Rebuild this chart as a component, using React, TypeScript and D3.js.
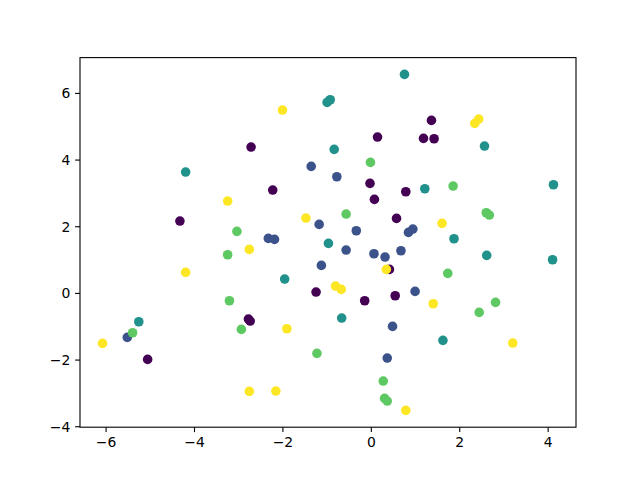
import React from "react";
import * as d3 from "d3";

const class0X = [-2.72, -4.33, 0.14, -0.03, -2.23, 0.78, 0.07, 0.57, 1.36, 1.18, 1.42, -2.78, -2.74, -5.06, 0.41, -1.25, 0.54, -0.15];
const class0Y = [4.39, 2.17, 4.69, 3.30, 3.10, 3.05, 2.82, 2.25, 5.19, 4.65, 4.64, -0.77, -0.83, -1.98, 0.72, 0.04, -0.07, -0.22];

const class1X = [-1.36, -0.78, -1.18, -0.34, 0.84, 0.94, -2.33, -2.19, -0.57, 0.06, 0.31, 0.67, -1.13, 0.99, 0.48, 0.36, -5.52];
const class1Y = [3.81, 3.50, 2.07, 1.88, 1.83, 1.93, 1.65, 1.62, 1.30, 1.19, 1.09, 1.28, 0.84, 0.06, -0.99, -1.94, -1.32];

const class2X = [0.75, -1.00, -0.93, -4.20, -0.84, 2.56, 1.21, 4.12, 1.87, -0.97, -5.26, -1.96, -0.67, 2.61, 4.10, 1.62];
const class2Y = [6.57, 5.73, 5.81, 3.64, 4.32, 4.42, 3.14, 3.26, 1.64, 1.50, -0.85, 0.43, -0.74, 1.14, 1.01, -1.41];

const class3X = [-3.04, -0.02, -0.57, 1.85, 2.60, 2.67, -3.25, -3.21, -2.94, -5.40, -1.23, 0.27, 0.30, 0.36, 1.73, 2.81, 2.44];
const class3Y = [1.86, 3.93, 2.38, 3.22, 2.42, 2.35, 1.16, -0.22, -1.08, -1.18, -1.80, -2.63, -3.15, -3.23, 0.60, -0.27, -0.57];

const class4X = [-3.25, -2.01, -1.48, 2.34, 2.43, 1.60, -2.76, -4.20, -6.08, -2.76, 0.34, -0.81, -0.68, -1.91, 0.78, -2.16, 1.40, 3.20];
const class4Y = [2.77, 5.50, 2.26, 5.10, 5.23, 2.10, 1.32, 0.63, -1.50, -2.94, 0.72, 0.22, 0.12, -1.06, -3.51, -2.93, -0.31, -1.49];

const classX = [class0X, class1X, class2X, class3X, class4X];
const classY = [class0Y, class1Y, class2Y, class3Y, class4Y];
const classColors = ["#440154", "#3b528b", "#21918c", "#5ec962", "#fde725"];

const xTicks = [-6, -4, -2, 0, 2, 4];
const yTicks = [-4, -2, 0, 2, 4, 6];

const W = 640;
const H = 480;
const L = 80;
const R = 576;
const T = 57.6;
const B = 427.2;

function padExtent(vals: number[]): [number, number] {
  const [mn, mx] = d3.extent(vals) as [number, number];
  const m = (mx - mn) * 0.05;
  return [mn - m, mx + m];
}

const fmt = (v: number) => (v < 0 ? "\u2212" + Math.abs(v) : String(v));

export default function App() {
  const allX = classX.flat();
  const allY = classY.flat();
  const x = d3.scaleLinear().domain(padExtent(allX)).range([L, R]);
  const y = d3.scaleLinear().domain(padExtent(allY)).range([B, T]);
  const pts: { cx: number; cy: number; c: string }[] = [];
  classX.forEach((xs, k) => {
    xs.forEach((xv, i) => {
      pts.push({ cx: x(xv), cy: y(classY[k][i]), c: classColors[k] });
    });
  });
  const font = "'DejaVu Sans', sans-serif";
  return (
    <svg width={W} height={H} style={{ position: "absolute", left: 0, top: 0, background: "#fff" }}>
      <rect x={0} y={0} width={W} height={H} fill="#fff" />
      {pts.map((p, i) => (
        <circle key={i} cx={p.cx} cy={p.cy} r={4.8} fill={p.c} />
      ))}
      <rect x={L} y={T} width={R - L} height={B - T} fill="none" stroke="#000" strokeWidth={1.1} />
      {xTicks.map((t) => (
        <g key={"x" + t}>
          <line x1={x(t)} x2={x(t)} y1={B} y2={B + 4.9} stroke="#000" strokeWidth={1.1} />
          <text x={x(t)} y={B + 9.7 + 10.5} textAnchor="middle" fontFamily={font} fontSize={13.9} fill="#000">
            {fmt(t)}
          </text>
        </g>
      ))}
      {yTicks.map((t) => (
        <g key={"y" + t}>
          <line x1={L - 4.9} x2={L} y1={y(t)} y2={y(t)} stroke="#000" strokeWidth={1.1} />
          <text x={L - 9.7} y={y(t)} dy="0.35em" textAnchor="end" fontFamily={font} fontSize={13.9} fill="#000">
            {fmt(t)}
          </text>
        </g>
      ))}
    </svg>
  );
}
